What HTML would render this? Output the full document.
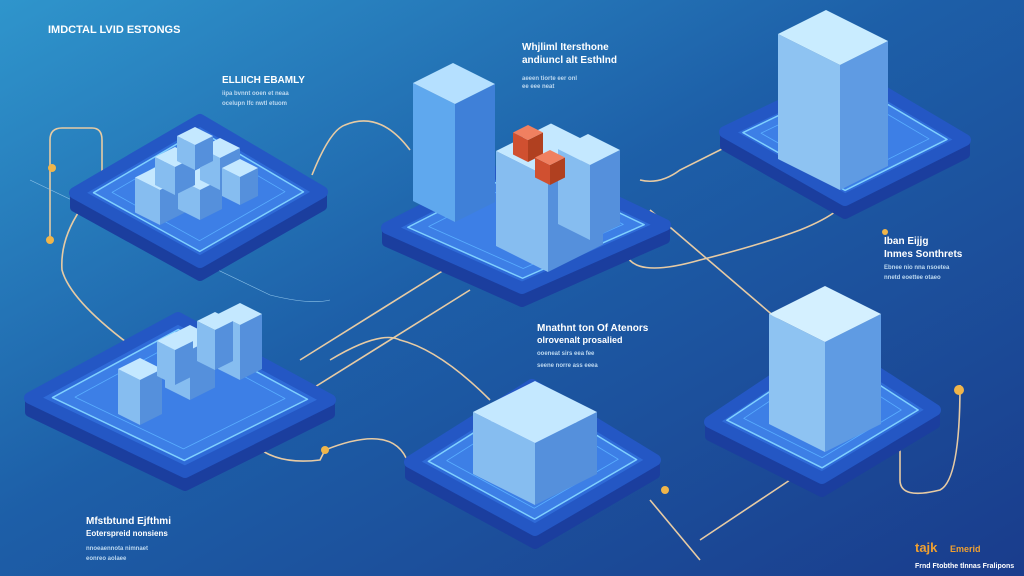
<!DOCTYPE html>
<html><head><meta charset="utf-8"><style>
html,body{margin:0;padding:0;width:1024px;height:576px;overflow:hidden}
svg{display:block}
text{font-family:"Liberation Sans",sans-serif;font-weight:bold}
</style></head><body>
<svg id="s" width="1024" height="576" viewBox="0 0 1024 576" xmlns="http://www.w3.org/2000/svg">
<defs>
<linearGradient id="bg" x1="0" y1="0" x2="1" y2="1">
<stop offset="0" stop-color="#2f95cc"/><stop offset="0.45" stop-color="#1d5fa8"/><stop offset="1" stop-color="#1a3c8c"/>
</linearGradient>
</defs>
<rect width="1024" height="576" fill="url(#bg)"/>
<g id="lines" fill="none" stroke="#e7cba4" stroke-width="1.6">
<path d="M50,240 V140 Q50,128 62,128 H92 Q102,128 102,140 V175"/>
<path d="M80,210 Q60,240 62,270 Q70,300 130,345"/>
<path d="M312,175 Q330,130 345,125 Q380,110 410,150"/>
<path d="M640,180 Q660,185 680,170 L740,140"/>
<path d="M650,210 L790,330"/>
<path d="M625,250 Q630,280 700,260 Q760,245 800,230 Q850,210 850,190"/>
<path d="M300,360 L460,260"/>
<path d="M310,390 L470,290"/>
<path d="M230,390 Q240,470 320,460 L325,450 Q400,420 410,470"/>
<path d="M330,360 Q380,330 400,340 Q440,350 490,400"/>
<path d="M650,500 L700,560 M700,540 L790,480"/>
<path d="M900,450 V480 Q900,500 940,490 Q960,480 960,385"/>
<path d="M30,180 L270,295 Q310,305 330,300" stroke-width="0.6" stroke="#8fc4ea"/>
</g>
<g fill="#f0b54a"><circle cx="50" cy="240" r="4"/><circle cx="52" cy="168" r="4"/><circle cx="325" cy="450" r="4"/><circle cx="665" cy="490" r="4"/><circle cx="959" cy="390" r="5"/><circle cx="885" cy="232" r="3"/></g>
<g id="plat"></g>
<g fill="#ffffff">
<text x="48" y="33" font-size="11">IMDCTAL LVID ESTONGS</text>
<text x="222" y="83" font-size="10">ELLIICH EBAMLY</text>
<text x="522" y="50" font-size="10">Whjliml Itersthone</text>
<text x="522" y="63" font-size="10">andiuncl alt Esthlnd</text>
<text x="884" y="244" font-size="10">Iban Eijjg</text>
<text x="884" y="257" font-size="10">Inmes Sonthrets</text>
<text x="537" y="331" font-size="10">Mnathnt ton Of Atenors</text>
<text x="537" y="343" font-size="9">olrovenalt prosalied</text>
<text x="86" y="524" font-size="10">Mfstbtund Ejfthmi</text>
<text x="86" y="536" font-size="8">Eoterspreid nonsiens</text>
<text x="915" y="552" font-size="13" fill="#f0a030">tajk</text>
<text x="950" y="552" font-size="9" fill="#f0a030">Emerid</text>
<text x="915" y="568" font-size="7">Frnd Ftobthe tlnnas Fralipons</text>
</g>
<g fill="#bcd8f0" font-size="6" font-family="Liberation Sans">
<text x="222" y="95">iipa bvnnt ooen et neaa</text><text x="222" y="105">ocelupn lfc nwtl etuom</text>
<text x="522" y="80">aeeen tiorte eer onl</text><text x="522" y="88">ee eee neat</text>
<text x="884" y="269">Ebnee nio nna nsoetea</text><text x="884" y="279">nnetd eoettee otaeo</text>
<text x="537" y="355">ooeneat sirs eea fee</text><text x="537" y="367">seene norre ass eeea</text>
<text x="86" y="550">nnoeaennota nimnaet</text><text x="86" y="560">eonreo aolaee</text>
</g>
</svg>
<script>
var NS="http://www.w3.org/2000/svg",g=document.getElementById("plat");
function P(pts,f,st,sw){var e=document.createElementNS(NS,"polygon");e.setAttribute("points",pts.map(p=>p.join(",")).join(" "));e.setAttribute("fill",f);if(st){e.setAttribute("stroke",st);e.setAttribute("stroke-width",sw||1.5);e.setAttribute("stroke-linejoin","round");}g.appendChild(e);}
function plat(L,T,R,B){var d=14;
P([L,B,R,[R[0],R[1]+d],[B[0],B[1]+d],[L[0],L[1]+d]],"#1b3e9e","#1b3e9e",10);
P([L,T,R,B],"#2f6bd8","#2457c4",12);
var cx=(L[0]+R[0])/2,cy=(T[1]+B[1])/2;function s(p,k){return [cx+(p[0]-cx)*k,cy+(p[1]-cy)*k];}
P([s(L,.85),s(T,.85),s(R,.85),s(B,.85)],"#3d7fe6","#7fd0ff",1.5);
P([s(L,.7),s(T,.7),s(R,.7),s(B,.7)],"none","#5aaeff",0.8);}
function box(cx,cy,a,c,h,top,lf,rf){top=top||"#c4e8ff";lf=lf||"#86bdf0";rf=rf||"#5590dc";
var B=[cx,cy],L=[cx-a,cy-a/2],R=[cx+c,cy-c/2],T=[cx-a+c,cy-a/2-c/2];function u(p){return [p[0],p[1]-h];}
P([B,L,u(L),u(B)],lf);P([B,R,u(R),u(B)],rf);P([u(B),u(L),u(T),u(R)],top);}
plat([75,193],[200,120],[322,192],[200,262]);
plat([387,228],[525,158],[665,225],[522,288]);
plat([725,132],[850,72],[965,140],[845,200]);
plat([30,398],[178,318],[330,400],[185,472]);
plat([410,462],[532,385],[655,460],[535,530]);
plat([710,422],[830,342],[935,410],[822,478]);
box(160,225,25,25,35);box(200,220,22,22,30);box(175,195,20,20,28);box(220,190,20,20,32);box(195,170,18,18,25);box(240,205,18,18,28);
box(455,222,42,40,118,"#b5e0ff","#5fa8ee","#3f80d8");
box(548,272,52,55,95);box(590,240,32,30,75);
box(528,162,15,15,22,"#f08060","#d05030","#b04020");box(550,185,15,15,20,"#f08060","#d05030","#b04020");
box(840,190,62,48,125,"#c9ecff","#8ec3f2","#5f9be3");
box(140,425,22,22,45);box(190,400,25,25,50);box(240,380,22,22,55);box(175,385,18,18,35);box(215,370,18,18,40);
box(535,505,62,62,62);
box(825,452,56,56,110,"#d4f0ff","#8ec3f2","#5f9be3");
</script>
</body></html>
